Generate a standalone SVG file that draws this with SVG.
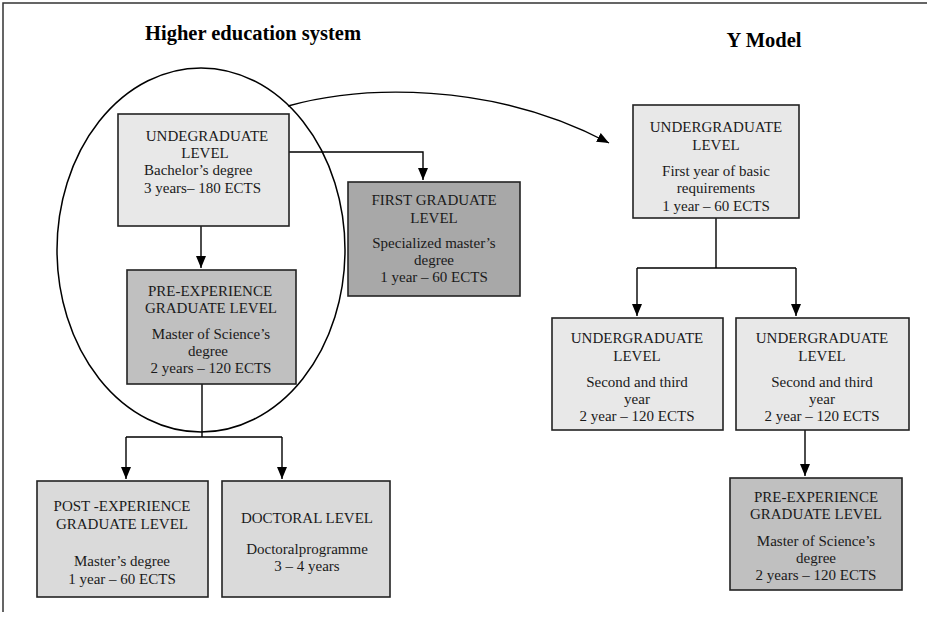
<svg xmlns="http://www.w3.org/2000/svg" width="927" height="618" viewBox="0 0 927 618">
<style>
.t{font-family:"Liberation Serif","Times New Roman",serif;font-size:15px;fill:#1a1a1a;text-anchor:middle}
.h{font-family:"Liberation Serif","Times New Roman",serif;font-size:20.5px;font-weight:bold;fill:#000;text-anchor:middle}
.box{stroke:#222;stroke-width:1.6}
.l1{fill:#e8e8e8}
.l2{fill:#dadada}
.m{fill:#c0c0c0}
.d{fill:#a8a8a8}
.c{fill:none;stroke:#000;stroke-width:1.4}
</style>
<defs>
<marker id="ah" markerUnits="userSpaceOnUse" markerWidth="12" markerHeight="12" refX="12" refY="5" orient="auto">
<path d="M0,0 L12,5 L0,10 z" fill="#000"/>
</marker>
</defs>
<rect width="927" height="618" fill="#fff"/>
<g id="frame" fill="none" stroke="#333" stroke-width="1.5">
<path d="M3,612 V3 H927"/>
</g>
<text class="h" x="253" y="40">Higher education system</text>
<text class="h" x="764" y="47">Y Model</text>
<g id="ellipse"><ellipse cx="201" cy="250" rx="144" ry="182" fill="none" stroke="#000" stroke-width="1.5"/></g>
<g id="connectors">
<path class="c" d="M289,152 H423 V180" marker-end="url(#ah)"/>
<path class="c" d="M201,226 V268" marker-end="url(#ah)"/>
<path class="c" d="M202,384 V437 M126,437 H282"/>
<path class="c" d="M126,437 V479" marker-end="url(#ah)"/>
<path class="c" d="M282,437 V479" marker-end="url(#ah)"/>
<path class="c" d="M288,106 C360,86 490,80 609,143" marker-end="url(#ah)"/>
<path class="c" d="M716,218 V268 M637,268 H796"/>
<path class="c" d="M637,268 V316" marker-end="url(#ah)"/>
<path class="c" d="M796,268 V316" marker-end="url(#ah)"/>
<path class="c" d="M805,430 V476" marker-end="url(#ah)"/>
</g>
<g id="undergrad-bachelor">
<rect class="box l1" x="118" y="114" width="171" height="112"/>
<text class="t" x="207" y="141">UNDEGRADUATE</text>
<text class="t" x="205" y="158">LEVEL</text>
<text class="t" x="144" y="175" style="text-anchor:start">Bachelor’s degree</text>
<text class="t" x="144" y="193" style="text-anchor:start">3 years– 180 ECTS</text>
</g>
<g id="pre-experience-left">
<rect class="box m" x="127" y="270" width="169" height="114"/>
<text class="t" x="210" y="296">PRE-EXPERIENCE</text>
<text class="t" x="211" y="313">GRADUATE LEVEL</text>
<text class="t" x="211" y="339">Master of Science’s</text>
<text class="t" x="208" y="356">degree</text>
<text class="t" x="211" y="373">2 years – 120 ECTS</text>
</g>
<g id="first-graduate">
<rect class="box d" x="348" y="182" width="172" height="114"/>
<text class="t" x="434" y="205">FIRST  GRADUATE</text>
<text class="t" x="434" y="223">LEVEL</text>
<text class="t" x="434" y="248">Specialized master’s</text>
<text class="t" x="434" y="265">degree</text>
<text class="t" x="434" y="282">1 year – 60 ECTS</text>
</g>
<g id="post-experience">
<rect class="box l2" x="37" y="481" width="171" height="116"/>
<text class="t" x="122" y="511">POST -EXPERIENCE</text>
<text class="t" x="122" y="529">GRADUATE LEVEL</text>
<text class="t" x="122" y="566">Master’s degree</text>
<text class="t" x="122" y="584">1 year – 60 ECTS</text>
</g>
<g id="doctoral">
<rect class="box l2" x="222" y="481" width="168" height="116"/>
<text class="t" x="307" y="523">DOCTORAL LEVEL</text>
<text class="t" x="307" y="554">Doctoralprogramme</text>
<text class="t" x="307" y="571">3 – 4 years</text>
</g>
<g id="y-first-year">
<rect class="box l1" x="633" y="105" width="166" height="113"/>
<text class="t" x="716" y="132">UNDERGRADUATE</text>
<text class="t" x="716" y="150">LEVEL</text>
<text class="t" x="716" y="176">First year of basic</text>
<text class="t" x="716" y="193">requirements</text>
<text class="t" x="716" y="211">1 year – 60 ECTS</text>
</g>
<g id="y-second-left">
<rect class="box l1" x="552" y="318" width="171" height="112"/>
<text class="t" x="637" y="343">UNDERGRADUATE</text>
<text class="t" x="637" y="361">LEVEL</text>
<text class="t" x="637" y="387">Second and third</text>
<text class="t" x="637" y="404">year</text>
<text class="t" x="637" y="421">2 year – 120 ECTS</text>
</g>
<g id="y-second-right">
<rect class="box l1" x="736" y="318" width="173" height="112"/>
<text class="t" x="822" y="343">UNDERGRADUATE</text>
<text class="t" x="822" y="361">LEVEL</text>
<text class="t" x="822" y="387">Second and third</text>
<text class="t" x="822" y="404">year</text>
<text class="t" x="822" y="421">2 year – 120 ECTS</text>
</g>
<g id="y-pre-experience">
<rect class="box m" x="730" y="478" width="172" height="112"/>
<text class="t" x="816" y="502">PRE-EXPERIENCE</text>
<text class="t" x="816" y="519">GRADUATE  LEVEL</text>
<text class="t" x="816" y="546">Master of Science’s</text>
<text class="t" x="816" y="563">degree</text>
<text class="t" x="816" y="580">2 years – 120 ECTS</text>
</g>
</svg>
